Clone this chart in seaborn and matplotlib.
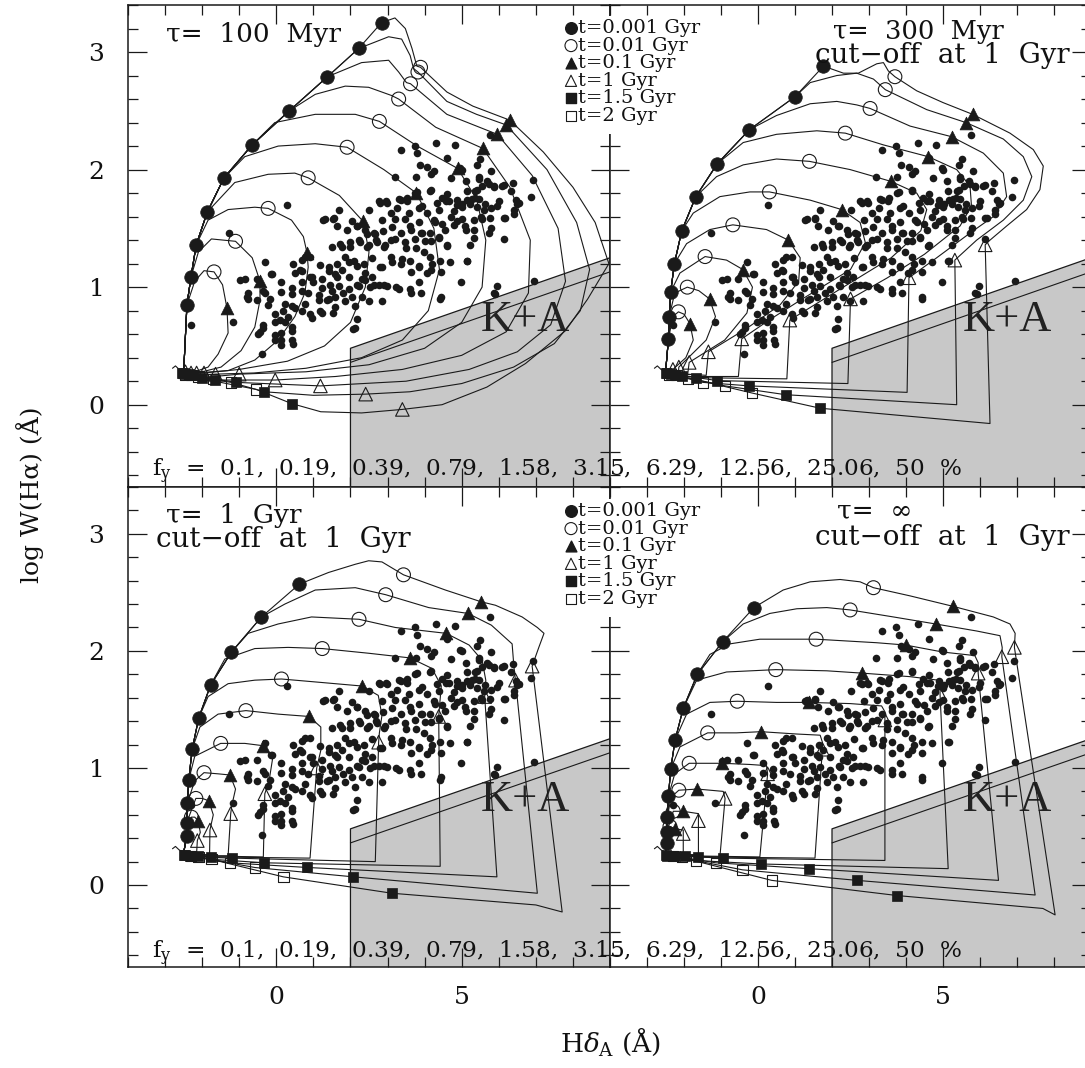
import numpy as np
import matplotlib
matplotlib.use("Agg")
import matplotlib.pyplot as plt
import seaborn as sns
from matplotlib.ticker import MultipleLocator

sns.set_theme(style="white")
plt.rcParams['font.family'] = ['DejaVu Serif']
plt.rcParams['mathtext.fontset'] = 'dejavuserif'

# ---------------- data ----------------
burst_fractions = [0.1, 0.19, 0.39, 0.79, 1.58, 3.15, 6.29, 12.56, 25.06, 50]
legend_labels = ["t=0.001 Gyr", "t=0.01 Gyr", "t=0.1 Gyr", "t=1 Gyr", "t=1.5 Gyr", "t=2 Gyr"]
panel_titles = ["\u03c4=  100  Myr", "\u03c4=  300  Myr", "\u03c4=  1  Gyr", "\u03c4=  \u221e"]
cutoff_label = "cut\u2212off  at  1  Gyr"
x_ticks = [0, 5]
y_ticks = [0, 1, 2, 3]

track_start = (-2.5, 0.27)
start_flag = [(-2.8, 0.31), (-2.72, 0.33), (-2.62, 0.30), (-2.5, 0.28)]

# observed galaxies (HdA, log W(Ha))
obs_points = [
 (3.35,2.17),(3.73,2.2),(3.80,2.14),(4.32,2.23),(4.82,2.21),(4.61,2.10),(3.19,1.94),(3.87,2.04),(4.07,2.02),
 (4.25,1.99),(4.16,1.96),(3.76,1.94),(4.72,1.93),(5.11,1.90),(5.42,2.04),(5.47,1.94),(5.80,1.99),(6.13,1.87),
 (6.39,1.89),(6.91,1.91),(6.86,1.77),(6.32,1.82),(6.46,1.74),(6.41,1.66),(6.14,1.59),(6.55,1.72),(5.87,1.86),
 (5.69,1.90),(5.56,1.86),(5.42,1.83),(5.35,1.76),(5.62,1.71),(5.78,1.67),(5.96,1.69),(6.0,1.73),(5.76,1.59),
 (5.51,1.60),(5.33,1.57),(5.78,1.50),(6.14,1.41),(5.15,1.74),(5.02,1.71),(4.88,1.74),(4.61,1.79),(4.57,1.73),
 (4.34,1.72),(4.16,1.83),(3.80,1.81),(3.53,1.76),(3.35,1.74),(2.95,1.73),(2.77,1.73),(2.50,1.66),(1.55,1.59),
 (1.68,1.66),(2.04,1.56),(2.18,1.52),(2.40,1.49),(2.63,1.46),(2.86,1.57),(3.08,1.63),(3.26,1.67),(3.58,1.63),
 (3.85,1.67),(4.07,1.63),(4.25,1.57),(4.48,1.54),(4.70,1.60),(4.88,1.56),(5.11,1.49),(5.33,1.42),(5.15,1.22),
 (4.61,1.36),(4.39,1.43),(4.16,1.39),(3.89,1.46),(3.62,1.49),(3.35,1.46),(3.08,1.40),(2.90,1.34),(2.68,1.40),
 (2.45,1.34),(2.22,1.40),(2.00,1.34),(1.73,1.37),(3.49,1.33),(3.76,1.33),(3.98,1.30),(4.21,1.20),(4.43,1.13),
 (4.16,1.15),(3.85,1.17),(3.62,1.13),(3.35,1.20),(3.08,1.26),(2.81,1.17),(2.59,1.25),(2.36,1.20),(2.09,1.22),
 (1.86,1.26),(1.64,1.20),(1.64,1.09),(1.95,1.09),(2.18,1.02),(2.40,1.06),(2.63,1.02),(2.90,1.02),(3.22,1.00),
 (3.62,0.95),(3.89,0.95),(4.43,0.92),(4.97,1.04),(5.96,1.01),(5.87,0.95),(6.95,1.05),
 (0.28,1.70),(-1.28,1.46),(1.27,1.57),(1.41,1.17),(1.18,1.19),(-0.31,1.21),(-0.11,1.11),(-0.98,1.06),
 (-0.85,1.07),(-0.76,0.95),(-0.76,0.90),(-0.53,0.89),(-0.22,0.85),(0.14,0.96),(0.41,0.99),(0.68,0.97),
 (0.5,1.12),(0.46,1.20),(0.64,1.15),(0.68,1.23),(0.91,1.26),(0.95,1.09),(1.23,0.99),(1.5,0.97),(-2.29,0.68),
 (-1.16,0.70),(-0.38,0.43),(-0.35,0.68),(-0.44,0.62),(-0.04,0.59),(0.14,0.55),(0.43,0.55),(-0.04,0.77),
 (0.1,0.72),(0.32,0.75),(0.41,0.66),(0.5,0.82),(0.77,0.86),(0.91,0.77),(1.18,0.80),(1.14,0.89),(1.36,0.89),
 (0.23,0.86),(-0.17,0.90),(2.17,0.73),(2.13,0.65),(1.59,0.83),(2.31,0.92),(2.85,0.88),
 (5.76,2.29),(5.5,2.09),(4.96,2.01),(5.0,2.0),(5.46,1.92),(5.73,1.88),(5.37,1.82),(5.14,1.82),(5.86,1.85),
 (6.09,1.86),(6.5,1.71),(6.18,1.59),(6.4,1.62),(3.75,1.80),(4.15,1.82),(4.47,1.76),(4.65,1.73),(4.87,1.70),
 (5.0,1.68),(5.23,1.71),(5.41,1.68),(5.6,1.66),(5.46,1.75),(5.28,1.75),(4.78,1.65),(4.38,1.66),(3.93,1.69),
 (3.52,1.73),(3.3,1.75),(2.98,1.72),(2.8,1.72),
 (1.32,1.58),(1.54,1.58),(1.63,1.52),(1.9,1.49),(2.17,1.52),(2.44,1.45),(2.67,1.45),(2.89,1.48),(3.12,1.51),
 (3.21,1.58),(3.48,1.58),(3.61,1.52),(3.84,1.55),(3.93,1.46),(4.15,1.46),(4.29,1.55),(4.56,1.49),(4.78,1.53),
 (5.0,1.58),(5.1,1.52),(5.32,1.49),(5.55,1.58),(5.73,1.46),(5.23,1.36),(4.6,1.35),(4.38,1.42),(4.02,1.39),
 (3.75,1.41),(3.48,1.38),(3.21,1.41),(2.94,1.36),(2.71,1.38),(2.49,1.36),(2.26,1.38),(1.99,1.38),(1.77,1.34),
 (1.5,1.34),
 (0.77,1.26),(0.68,1.14),(0.91,1.09),(1.41,1.14),(1.59,1.11),(1.77,1.15),(1.95,1.21),(2.17,1.18),(2.4,1.12),
 (2.58,1.09),(2.31,1.07),(2.85,1.17),(3.12,1.21),(3.39,1.24),(3.61,1.22),(3.84,1.18),(4.06,1.12),(4.15,1.26),
 (4.42,1.22),(4.69,1.21),(5.14,1.22),(3.84,1.04),(3.61,0.98),(3.3,0.98),(2.98,1.01),(2.76,1.02),(2.53,1.0),
 (2.22,1.01),(1.95,0.98),(1.68,1.01),(1.45,1.02),(1.23,1.07),(1.0,1.04),(0.68,1.04),(0.41,0.94),(0.14,1.04),
 (-0.13,1.11),(-0.35,0.97),(-0.53,1.07),(-0.8,0.92),(-0.31,0.95),
 (0.86,0.95),(1.14,0.93),(1.41,0.90),(1.59,0.92),(1.81,0.95),(2.04,0.92),(2.49,0.88),(2.13,0.84),(1.86,0.88),
 (1.54,0.78),(1.23,0.78),(0.95,0.74),(0.68,0.80),(0.41,0.84),(0.19,0.80),(-0.04,0.70),(0.23,0.70),(0.41,0.63),
 (0.14,0.61),(-0.04,0.55),(0.46,0.52),(0.14,0.51),(-0.35,0.65),(-0.49,0.60),(4.42,0.90),(5.91,0.94),(2.08,0.64),
]

# ---- tau = 100 Myr ----
tl_fc = [(-2.41,0.85),(-2.30,1.09),(-2.16,1.36),(-1.86,1.64),(-1.41,1.93),(-0.65,2.21),(0.35,2.50),(1.38,2.79),(2.22,3.03),(2.84,3.25)]
tl_oc = [(-1.68,1.13),(-1.1,1.39),(-0.22,1.67),(0.86,1.93),(1.91,2.19),(2.78,2.41),(3.3,2.6),(3.62,2.73),(3.82,2.83),(3.89,2.87)]
tl_ft = [(-1.33,0.82),(-0.44,1.05),(0.83,1.29),(2.34,1.56),(3.78,1.80),(4.89,2.01),(5.57,2.18),(5.96,2.30),(6.2,2.38),(6.3,2.42)]
tl_ot = [(-2.45,0.28),(-2.3,0.27),(-2.15,0.27),(-1.95,0.27),(-1.64,0.26),(-1.0,0.26),(-0.03,0.21),(1.19,0.16),(2.41,0.09),(3.4,-0.04)]
tl_fs = [(-2.55,0.27),(-2.5,0.27),(-2.45,0.26),(-2.35,0.26),(-2.24,0.25),(-2.0,0.23),(-1.65,0.21),(-1.08,0.19),(-0.32,0.11),(0.41,0.01)]
tl_os = [(-2.45,0.25),(-2.3,0.25),(-2.1,0.24),(-1.7,0.22),(-1.22,0.19),(-0.54,0.13)]
tl_tracks = [
 [(-2.2,1.05),(-1.95,1.14),(-1.68,1.13),(-1.45,1.02),(-1.33,0.82),(-1.3,0.61),(-1.57,0.43),(-1.84,0.32),(-2.2,0.28),(-2.5,0.27)],
 [(-2.1,1.3),(-1.75,1.41),(-1.1,1.39),(-0.65,1.25),(-0.44,1.05),(-0.44,0.89),(-0.58,0.66),(-0.95,0.46),(-1.49,0.32),(-2.0,0.28),(-2.5,0.27)],
 [(-1.84,1.57),(-1.3,1.66),(-0.58,1.68),(-0.22,1.67),(0.41,1.57),(0.73,1.43),(0.83,1.29),(0.86,1.17),(0.77,0.95),(0.5,0.75),(0.05,0.55),(-0.58,0.38),(-1.3,0.29),(-2.15,0.27),(-2.5,0.27)],
 [(-1.12,1.89),(-0.22,1.96),(0.5,1.97),(0.86,1.93),(1.7,1.78),(2.34,1.56),(2.5,1.3),(2.4,1.0),(2.0,0.7),(1.3,0.5),(0.3,0.37),(-1.0,0.3),(-1.95,0.27),(-2.5,0.27)],
 [(-0.85,2.11),(0.05,2.2),(1.05,2.22),(1.91,2.19),(2.9,2.0),(3.78,1.80),(4.25,1.5),(4.4,1.15),(4.1,0.8),(3.4,0.55),(2.3,0.4),(0.8,0.31),(-0.6,0.27),(-1.64,0.26),(-2.24,0.25),(-2.5,0.27)],
 [(-0.04,2.40),(1.05,2.47),(2.13,2.47),(2.78,2.41),(3.8,2.2),(4.89,2.01),(5.4,1.75),(5.65,1.4),(5.55,1.0),(5.0,0.7),(4.0,0.48),(2.5,0.34),(0.8,0.28),(-1.0,0.26),(-2.0,0.23),(-2.5,0.26)],
 [(1.05,2.64),(1.86,2.71),(2.49,2.70),(3.11,2.63),(3.3,2.6),(4.3,2.36),(5.57,2.18),(6.3,1.85),(6.85,1.4),(6.8,0.95),(6.2,0.62),(5.0,0.42),(3.4,0.3),(1.6,0.24),(-0.03,0.21),(-1.65,0.21),(-2.5,0.26)],
 [(2.3,2.91),(3.03,2.93),(3.3,2.83),(3.51,2.74),(3.62,2.73),(4.6,2.47),(5.96,2.30),(6.9,1.95),(7.6,1.5),(7.8,1.05),(7.4,0.68),(6.5,0.45),(5.2,0.3),(3.5,0.2),(1.19,0.16),(-1.08,0.19),(-1.7,0.22),(-2.5,0.26)],
 [(3.03,3.13),(3.38,3.11),(3.61,2.97),(3.7,2.86),(3.82,2.83),(4.6,2.58),(5.4,2.47),(6.2,2.38),(7.3,2.0),(8.1,1.55),(8.45,1.15),(8.2,0.8),(7.5,0.52),(6.4,0.32),(5.0,0.18),(3.6,0.11),(2.41,0.09),(1.0,0.08),(-0.32,0.11),(-1.22,0.19),(-2.3,0.24),(-2.5,0.26)],
 [(3.2,3.29),(3.48,3.20),(3.66,3.03),(3.79,2.88),(3.89,2.87),(4.6,2.66),(5.3,2.54),(6.3,2.42),(7.2,2.15),(8.0,1.85),(8.6,1.55),(8.97,1.2),(8.4,0.9),(7.8,0.63),(6.72,0.35),(5.68,0.15),(4.47,0.0),(3.4,-0.04),(2.3,-0.07),(1.2,-0.06),(0.41,0.01),(-0.54,0.13),(-1.5,0.19),(-2.2,0.22),(-2.5,0.26)],
]

# ---- tau = 300 Myr, cut-off at 1 Gyr ----
tr_fc = [(-2.42,0.56),(-2.40,0.75),(-2.36,0.96),(-2.26,1.20),(-2.06,1.48),(-1.68,1.77),(-1.1,2.05),(-0.23,2.34),(1.0,2.62),(1.77,2.88)]
tr_oc = [(-2.15,0.79),(-1.91,1.0),(-1.43,1.26),(-0.68,1.53),(0.31,1.81),(1.39,2.07),(2.36,2.31),(3.03,2.52),(3.44,2.68),(3.70,2.79)]
tr_ft = [(-1.84,0.69),(-1.31,0.90),(-0.41,1.15),(0.82,1.40),(2.26,1.66),(3.59,1.90),(4.60,2.11),(5.23,2.28),(5.62,2.40),(5.80,2.47)]
tr_ot = [(-2.3,0.30),(-2.14,0.32),(-1.86,0.36),(-1.34,0.45),(-0.44,0.56),(0.86,0.72),(2.5,0.90),(4.08,1.08),(5.32,1.23),(6.14,1.36)]
tr_fs = [(-2.5,0.27),(-2.45,0.27),(-2.35,0.26),(-2.25,0.25),(-2.06,0.24),(-1.68,0.23),(-1.1,0.205),(-0.23,0.16),(0.75,0.085),(1.68,-0.03)]
tr_os = [(-2.4,0.25),(-2.2,0.25),(-1.9,0.22),(-1.49,0.19),(-0.89,0.16),(-0.17,0.10)]
tr_tracks = [
 [(-2.3,0.75),(-2.15,0.79),(-2.0,0.77),(-1.84,0.69),(-1.75,0.55),(-1.95,0.4),(-2.3,0.30),(-2.32,0.27),(-2.5,0.27)],
 [(-2.25,0.95),(-1.91,1.0),(-1.6,0.97),(-1.31,0.90),(-1.15,0.75),(-1.4,0.55),(-2.14,0.32),(-2.15,0.27),(-2.5,0.27)],
 [(-2.11,1.12),(-1.43,1.26),(-0.85,1.23),(-0.41,1.15),(-0.15,1.0),(-0.3,0.78),(-0.9,0.55),(-1.86,0.36),(-1.9,0.26),(-2.5,0.27)],
 [(-1.93,1.37),(-1.3,1.49),(-0.68,1.53),(0.23,1.49),(0.82,1.40),(1.14,1.25),(1.1,1.05),(0.6,0.85),(-0.3,0.65),(-1.34,0.45),(-1.4,0.25),(-2.5,0.27)],
 [(-1.75,1.63),(-1.03,1.77),(-0.22,1.81),(0.31,1.81),(1.41,1.74),(2.26,1.66),(2.76,1.55),(2.9,1.38),(2.5,1.15),(1.2,0.9),(0.3,0.72),(-0.44,0.56),(-0.53,0.24),(-2.06,0.24),(-2.5,0.27)],
 [(-1.12,1.94),(-0.4,2.04),(0.5,2.09),(1.39,2.07),(2.49,2.0),(3.59,1.90),(4.29,1.80),(4.56,1.66),(4.4,1.48),(3.6,1.25),(2.2,0.98),(0.86,0.72),(0.78,0.22),(-1.68,0.23),(-2.5,0.27)],
 [(-0.4,2.23),(0.5,2.30),(1.59,2.33),(2.36,2.31),(3.39,2.21),(4.60,2.11),(5.37,2.0),(5.73,1.86),(5.77,1.69),(5.46,1.52),(4.5,1.28),(3.5,1.08),(2.5,0.90),(2.43,0.18),(-1.1,0.205),(-2.5,0.27)],
 [(0.5,2.46),(1.41,2.56),(2.13,2.58),(2.67,2.55),(3.03,2.52),(4.11,2.37),(5.23,2.28),(6.09,2.14),(6.63,1.97),(6.72,1.77),(6.36,1.60),(5.73,1.46),(4.83,1.25),(4.08,1.08),(4.03,0.105),(-0.23,0.16),(-1.49,0.19),(-2.5,0.27)],
 [(1.41,2.74),(2.13,2.80),(2.67,2.82),(3.12,2.77),(3.44,2.68),(4.56,2.51),(5.62,2.40),(6.63,2.26),(7.17,2.11),(7.4,1.94),(7.17,1.74),(6.63,1.57),(5.91,1.40),(5.32,1.23),(5.37,0.0),(0.75,0.085),(-0.89,0.16),(-2.5,0.27)],
 [(2.31,2.82),(2.71,2.82),(3.21,2.90),(3.39,2.91),(3.52,2.84),(3.70,2.79),(4.29,2.67),(5.0,2.57),(5.80,2.47),(6.81,2.31),(7.44,2.17),(7.71,2.03),(7.62,1.83),(7.26,1.66),(6.72,1.52),(6.27,1.40),(6.14,1.36),(6.27,-0.16),(1.68,-0.03),(-0.17,0.10),(-1.5,0.2),(-2.5,0.27)],
]

# ---- tau = 1 Gyr, cut-off at 1 Gyr ----
bl_fc = [(-2.42,0.42),(-2.42,0.53),(-2.40,0.70),(-2.36,0.90),(-2.27,1.16),(-2.09,1.43),(-1.77,1.71),(-1.21,1.99),(-0.40,2.29),(0.62,2.57)]
bl_oc = [(-2.29,0.58),(-2.17,0.74),(-1.95,0.96),(-1.5,1.21),(-0.82,1.49),(0.14,1.76),(1.24,2.02),(2.23,2.27),(2.95,2.48),(3.43,2.65)]
bl_ft = [(-2.11,0.55),(-1.82,0.72),(-1.25,0.94),(-0.35,1.19),(0.88,1.44),(2.31,1.70),(3.61,1.94),(4.58,2.15),(5.17,2.32),(5.52,2.42)]
bl_ot = [(-2.13,0.38),(-1.79,0.47),(-1.23,0.61),(-0.31,0.78),(1.09,1.0),(2.76,1.22),(4.38,1.44),(5.62,1.61),(6.45,1.75),(6.9,1.87)]
bl_fs = [(-2.5,0.26),(-2.45,0.26),(-2.33,0.25),(-2.1,0.25),(-1.77,0.24),(-1.19,0.23),(-0.32,0.19),(0.84,0.15),(2.08,0.07),(3.12,-0.07)]
bl_os = [(-2.3,0.25),(-2.1,0.24),(-1.75,0.22),(-1.25,0.19),(-0.58,0.15),(0.19,0.07)]
bl_tracks = [
 [(-2.29,0.58),(-2.2,0.58),(-2.11,0.55),(-2.05,0.45),(-2.13,0.38),(-2.15,0.27),(-2.5,0.26)],
 [(-2.17,0.74),(-2.0,0.74),(-1.82,0.72),(-1.7,0.6),(-1.79,0.47),(-1.8,0.26),(-2.5,0.26)],
 [(-2.2,0.89),(-1.95,0.96),(-1.57,0.95),(-1.25,0.94),(-1.1,0.82),(-1.2,0.68),(-1.23,0.61),(-1.3,0.25),(-2.33,0.25),(-2.5,0.26)],
 [(-2.2,1.1),(-1.5,1.21),(-0.85,1.21),(-0.35,1.19),(-0.1,1.08),(-0.2,0.88),(-0.31,0.78),(-0.35,0.24),(-2.1,0.25),(-2.5,0.26)],
 [(-2.06,1.35),(-1.57,1.46),(-0.82,1.49),(0.05,1.46),(0.88,1.44),(1.2,1.35),(1.2,1.15),(1.09,1.0),(0.91,0.23),(-1.77,0.24),(-2.5,0.26)],
 [(-1.84,1.61),(-1.3,1.72),(-0.58,1.75),(0.14,1.76),(1.23,1.73),(2.31,1.70),(2.75,1.62),(2.85,1.45),(2.78,1.3),(2.76,1.22),(2.67,0.20),(-1.19,0.23),(-2.1,0.24),(-2.5,0.26)],
 [(-1.39,1.93),(-0.58,2.02),(0.32,2.03),(1.24,2.02),(2.49,1.98),(3.61,1.94),(4.2,1.85),(4.45,1.7),(4.4,1.52),(4.38,1.44),(4.42,0.16),(-0.32,0.19),(-1.75,0.22),(-2.5,0.26)],
 [(-0.76,2.15),(0.05,2.23),(0.95,2.29),(2.23,2.27),(3.21,2.2),(4.58,2.15),(5.2,2.05),(5.55,1.92),(5.65,1.75),(5.62,1.61),(5.95,0.07),(0.84,0.15),(-1.25,0.19),(-2.5,0.26)],
 [(0.23,2.40),(1.05,2.52),(2.13,2.54),(2.95,2.48),(4.11,2.37),(5.17,2.32),(5.8,2.22),(6.36,2.06),(6.41,1.86),(6.45,1.75),(7.04,-0.07),(2.08,0.07),(-0.58,0.15),(-2.5,0.26)],
 [(1.41,2.67),(2.13,2.74),(2.49,2.77),(2.85,2.76),(3.43,2.65),(4.56,2.52),(5.52,2.42),(5.91,2.39),(6.63,2.29),(7.04,2.20),(7.22,2.15),(7.08,2.03),(6.9,1.87),(7.71,-0.23),(7.0,-0.17),(3.12,-0.07),(0.19,0.07),(-1.5,0.2),(-2.5,0.26)],
]

# ---- tau = infinity, cut-off at 1 Gyr ----
br_fc = [(-2.47,0.36),(-2.47,0.45),(-2.45,0.58),(-2.42,0.76),(-2.36,0.99),(-2.24,1.24),(-2.02,1.51),(-1.64,1.80),(-0.95,2.08),(-0.11,2.37)]
br_oc = [(-2.38,0.50),(-2.29,0.63),(-2.14,0.81),(-1.86,1.04),(-1.36,1.30),(-0.56,1.57),(0.48,1.84),(1.57,2.10),(2.49,2.35),(3.12,2.54)]
br_ft = [(-2.24,0.48),(-2.02,0.63),(-1.64,0.82),(-0.96,1.04),(0.08,1.31),(1.38,1.56),(2.82,1.81),(3.99,2.05),(4.8,2.23),(5.28,2.38)]
br_ot = [(-2.02,0.44),(-1.61,0.55),(-0.89,0.74),(0.26,0.95),(1.74,1.16),(3.43,1.41),(4.92,1.63),(5.95,1.81),(6.59,1.95),(6.93,2.03)]
br_fs = [(-2.5,0.26),(-2.45,0.25),(-2.24,0.25),(-1.97,0.25),(-1.61,0.24),(-0.94,0.23),(0.08,0.18),(1.38,0.14),(2.67,0.04),(3.77,-0.09)]
br_os = [(-2.3,0.25),(-2.05,0.24),(-1.68,0.21),(-1.14,0.19),(-0.42,0.13),(0.37,0.04)]
br_tracks = [
 [(-2.38,0.50),(-2.24,0.48),(-2.02,0.47),(-2.02,0.44),(-2.02,0.26),(-2.5,0.26)],
 [(-2.29,0.63),(-2.02,0.63),(-1.61,0.61),(-1.61,0.55),(-1.61,0.26),(-2.5,0.26)],
 [(-2.35,0.75),(-2.14,0.81),(-1.64,0.82),(-0.94,0.8),(-0.89,0.74),(-1.03,0.24),(-2.24,0.25),(-2.5,0.26)],
 [(-2.25,0.95),(-1.86,1.04),(-0.96,1.04),(-0.22,1.03),(0.23,1.02),(0.26,0.95),(0.05,0.24),(-1.97,0.25),(-2.5,0.26)],
 [(-2.11,1.18),(-1.36,1.30),(-0.58,1.30),(0.08,1.31),(1.05,1.29),(1.68,1.28),(1.74,1.22),(1.74,1.16),(1.54,0.23),(-1.61,0.24),(-2.5,0.26)],
 [(-1.93,1.46),(-1.3,1.56),(-0.56,1.57),(0.5,1.56),(1.38,1.56),(2.49,1.55),(3.34,1.53),(3.43,1.48),(3.43,1.41),(3.43,0.21),(-0.94,0.23),(-2.3,0.25),(-2.5,0.26)],
 [(-1.66,1.75),(-0.85,1.82),(0.48,1.84),(1.86,1.83),(2.82,1.81),(4.11,1.78),(4.87,1.75),(4.92,1.7),(4.92,1.63),(5.14,0.14),(0.08,0.18),(-1.68,0.21),(-2.5,0.26)],
 [(-1.3,1.97),(-0.76,2.06),(0.05,2.10),(1.57,2.10),(3.2,2.07),(3.99,2.05),(5.0,1.99),(5.86,1.96),(5.95,1.9),(5.95,1.81),(6.5,0.04),(1.38,0.14),(-1.14,0.19),(-2.5,0.26)],
 [(-0.4,2.23),(0.32,2.32),(1.05,2.36),(1.86,2.37),(2.49,2.35),(3.66,2.29),(4.8,2.23),(5.91,2.17),(6.54,2.13),(6.6,2.03),(6.59,1.95),(7.49,-0.085),(2.67,0.04),(-0.42,0.13),(-2.5,0.26)],
 [(0.68,2.52),(1.41,2.59),(2.22,2.61),(2.76,2.59),(3.12,2.54),(4.11,2.47),(5.28,2.38),(6.36,2.29),(6.81,2.23),(6.95,2.15),(6.93,2.03),(8.03,-0.255),(7.7,-0.2),(3.77,-0.09),(0.37,0.04),(-1.5,0.19),(-2.5,0.26)],
]

# K+A region boundary (HdA, log W)
kpa_x = [2.0, 2.0, 9.3, 9.3]
kpa_y = [-0.8, 0.48, 1.283, -0.8]
kpa_line2_x = [2.0, 9.3]
kpa_line2_y = [0.36, 1.163]

# ---------------- figure ----------------
W, H = 1085, 1068
fig = plt.figure(figsize=(W / 100, H / 100), dpi=100)
fig.patch.set_facecolor("white")


def add_ax(l, t, w, h):
    return fig.add_axes([l / W, 1 - (t + h) / H, w / W, h / H])


ax_tl = add_ax(128, 5, 482, 482)
ax_tr = add_ax(610, 5, 481, 482)
ax_bl = add_ax(128, 487, 482, 480)
ax_br = add_ax(610, 487, 481, 480)

panels = [
    (ax_tl, tl_fc, tl_oc, tl_ft, tl_ot, tl_fs, tl_os, tl_tracks),
    (ax_tr, tr_fc, tr_oc, tr_ft, tr_ot, tr_fs, tr_os, tr_tracks),
    (ax_bl, bl_fc, bl_oc, bl_ft, bl_ot, bl_fs, bl_os, bl_tracks),
    (ax_br, br_fc, br_oc, br_ft, br_ot, br_fs, br_os, br_tracks),
]

obs_x = [p[0] for p in obs_points]
obs_y = [p[1] for p in obs_points]

LW = 0.8
TXT = "#111111"


def xy(pts):
    return [p[0] for p in pts], [p[1] for p in pts]


for i, (ax, fc, oc, ft, ot, fs, os_, tracks) in enumerate(panels):
    ax.set_facecolor("white")
    # K+A region
    ax.fill(kpa_x, kpa_y, color="#c8c8c8", lw=0, zorder=0)
    ax.plot(kpa_x[:3], kpa_y[:3], color="k", lw=0.9, zorder=1)
    ax.plot(kpa_line2_x, kpa_line2_y, color="k", lw=0.8, zorder=1)
    ax.text(6.73, 0.63, "K+A", fontsize=32, family="Liberation Serif",
            ha="center", va="baseline", color="#222222", zorder=1)

    # model tracks
    for k, seg in enumerate(tracks):
        path = [track_start] + fc[:k + 1] + seg
        px, py = xy(path)
        sns.lineplot(x=px, y=py, sort=False, estimator=None, color="k",
                     lw=LW, ax=ax, zorder=2)
    fx, fy_ = xy(start_flag)
    sns.lineplot(x=fx, y=fy_, sort=False, estimator=None, color="k", lw=LW, ax=ax, zorder=2)

    # observations
    sns.scatterplot(x=obs_x, y=obs_y, color="k", s=30, marker="o",
                    edgecolor="k", linewidth=0, ax=ax, zorder=3)

    # age markers
    x_, y_ = xy(fc)
    sns.scatterplot(x=x_, y=y_, marker="o", color="k", s=95, edgecolor="k", linewidth=0.5, ax=ax, zorder=5)
    x_, y_ = xy(oc)
    ax.scatter(x_, y_, marker="o", facecolors="none", edgecolors="k", s=100, linewidths=0.8, zorder=5)
    x_, y_ = xy(ft)
    sns.scatterplot(x=x_, y=y_, marker="^", color="k", s=85, edgecolor="k", linewidth=0.5, ax=ax, zorder=5)
    x_, y_ = xy(ot)
    ax.scatter(x_, y_, marker="^", facecolors="none", edgecolors="k", s=95, linewidths=0.8, zorder=5)
    x_, y_ = xy(fs)
    sns.scatterplot(x=x_, y=y_, marker="s", color="k", s=55, edgecolor="k", linewidth=0.5, ax=ax, zorder=5)
    x_, y_ = xy(os_)
    ax.scatter(x_, y_, marker="s", facecolors="none", edgecolors="k", s=55, linewidths=0.8, zorder=5)

    ax.set_xlim(-4, 9)
    ax.set_ylim(-0.7, 3.4)
    ax.set_xlabel("")
    ax.set_ylabel("")
    ax.xaxis.set_major_locator(MultipleLocator(5))
    ax.xaxis.set_minor_locator(MultipleLocator(1))
    ax.yaxis.set_major_locator(MultipleLocator(1))
    ax.yaxis.set_minor_locator(MultipleLocator(0.2))
    ax.tick_params(which="both", direction="in", top=True, right=True, bottom=True, left=True,
                   color="k", width=0.9, labelsize=18, labelcolor=TXT)
    ax.tick_params(which="major", length=14)
    ax.tick_params(which="minor", length=7)
    ax.tick_params(axis="y", pad=17)
    ax.tick_params(axis="x", pad=14)
    ax.set_xticks(x_ticks)
    ax.set_xticklabels([str(v) for v in x_ticks])
    ax.set_yticks(y_ticks)
    ax.set_yticklabels([str(v) for v in y_ticks])
    ax.tick_params(labelbottom=(i >= 2), labelleft=(i % 2 == 0))
    for sp in ax.spines.values():
        sp.set_color("k")
        sp.set_linewidth(1.1)

# legends: white boxes (as in the original) that sit over the shared panel border
leg_markers = [("o", True, 70), ("o", False, 75), ("^", True, 60), ("^", False, 65), ("s", True, 45), ("s", False, 45)]
for top in (16, 499):
    lax = fig.add_axes([556 / W, 1 - (top + 118) / H, 160 / W, 118 / H])
    lax.set_zorder(5)
    lax.set_facecolor("white")
    lax.set_xlim(0, 160)
    lax.set_ylim(118, 0)
    lax.set_xticks([])
    lax.set_yticks([])
    for sp in lax.spines.values():
        sp.set_visible(False)
    for j, (lab, (m, filled, s)) in enumerate(zip(legend_labels, leg_markers)):
        yy = 12 + j * 17.6
        if filled:
            lax.scatter([15], [yy], marker=m, color="k", s=s, clip_on=False)
        else:
            lax.scatter([15], [yy], marker=m, facecolors="none", edgecolors="k", s=s,
                        linewidths=0.8, clip_on=False)
        lax.text(22, yy, lab, fontsize=14, va="center", ha="left", color=TXT)

# panel titles
fig.text(0.079, 0.923, panel_titles[0], transform=ax_tl.transAxes, fontsize=19, va="baseline", color=TXT, zorder=10)
fig.text(0.464, 0.930, panel_titles[1], transform=ax_tr.transAxes, fontsize=18.5, va="baseline", color=TXT, zorder=10)
fig.text(0.426, 0.879, cutoff_label, transform=ax_tr.transAxes, fontsize=20, va="baseline", color=TXT, zorder=10)
fig.text(0.079, 0.925, panel_titles[2], transform=ax_bl.transAxes, fontsize=19, va="baseline", color=TXT, zorder=10)
fig.text(0.058, 0.875, cutoff_label, transform=ax_bl.transAxes, fontsize=20, va="baseline", color=TXT, zorder=10)
fig.text(0.472, 0.935, panel_titles[3], transform=ax_br.transAxes, fontsize=19, va="baseline", color=TXT, zorder=10)
fig.text(0.426, 0.879, cutoff_label, transform=ax_br.transAxes, fontsize=20, va="baseline", color=TXT, zorder=10)

# burst fraction annotation
fy_text = r"f$_{\rm y}$  =  " + ",  ".join(str(v) for v in burst_fractions) + "  %"
fig.text(152 / W, 1 - 476 / H, fy_text, fontsize=16.7, va="baseline", ha="left", color=TXT, zorder=10)
fig.text(152 / W, 1 - 958 / H, fy_text, fontsize=16.7, va="baseline", ha="left", color=TXT, zorder=10)

# axis labels
fig.text(30 / W, 1 - 495 / H, "log W(H\u03b1) (\u00c5)", rotation=90, fontsize=18,
         ha="center", va="center", color=TXT)
fig.text(610 / W, 1 - 1052 / H, "H$\\delta_{\\rm A}$ (\u00c5)", fontsize=19,
         ha="center", va="baseline", color=TXT)

fig.savefig("out.png", dpi=100)
